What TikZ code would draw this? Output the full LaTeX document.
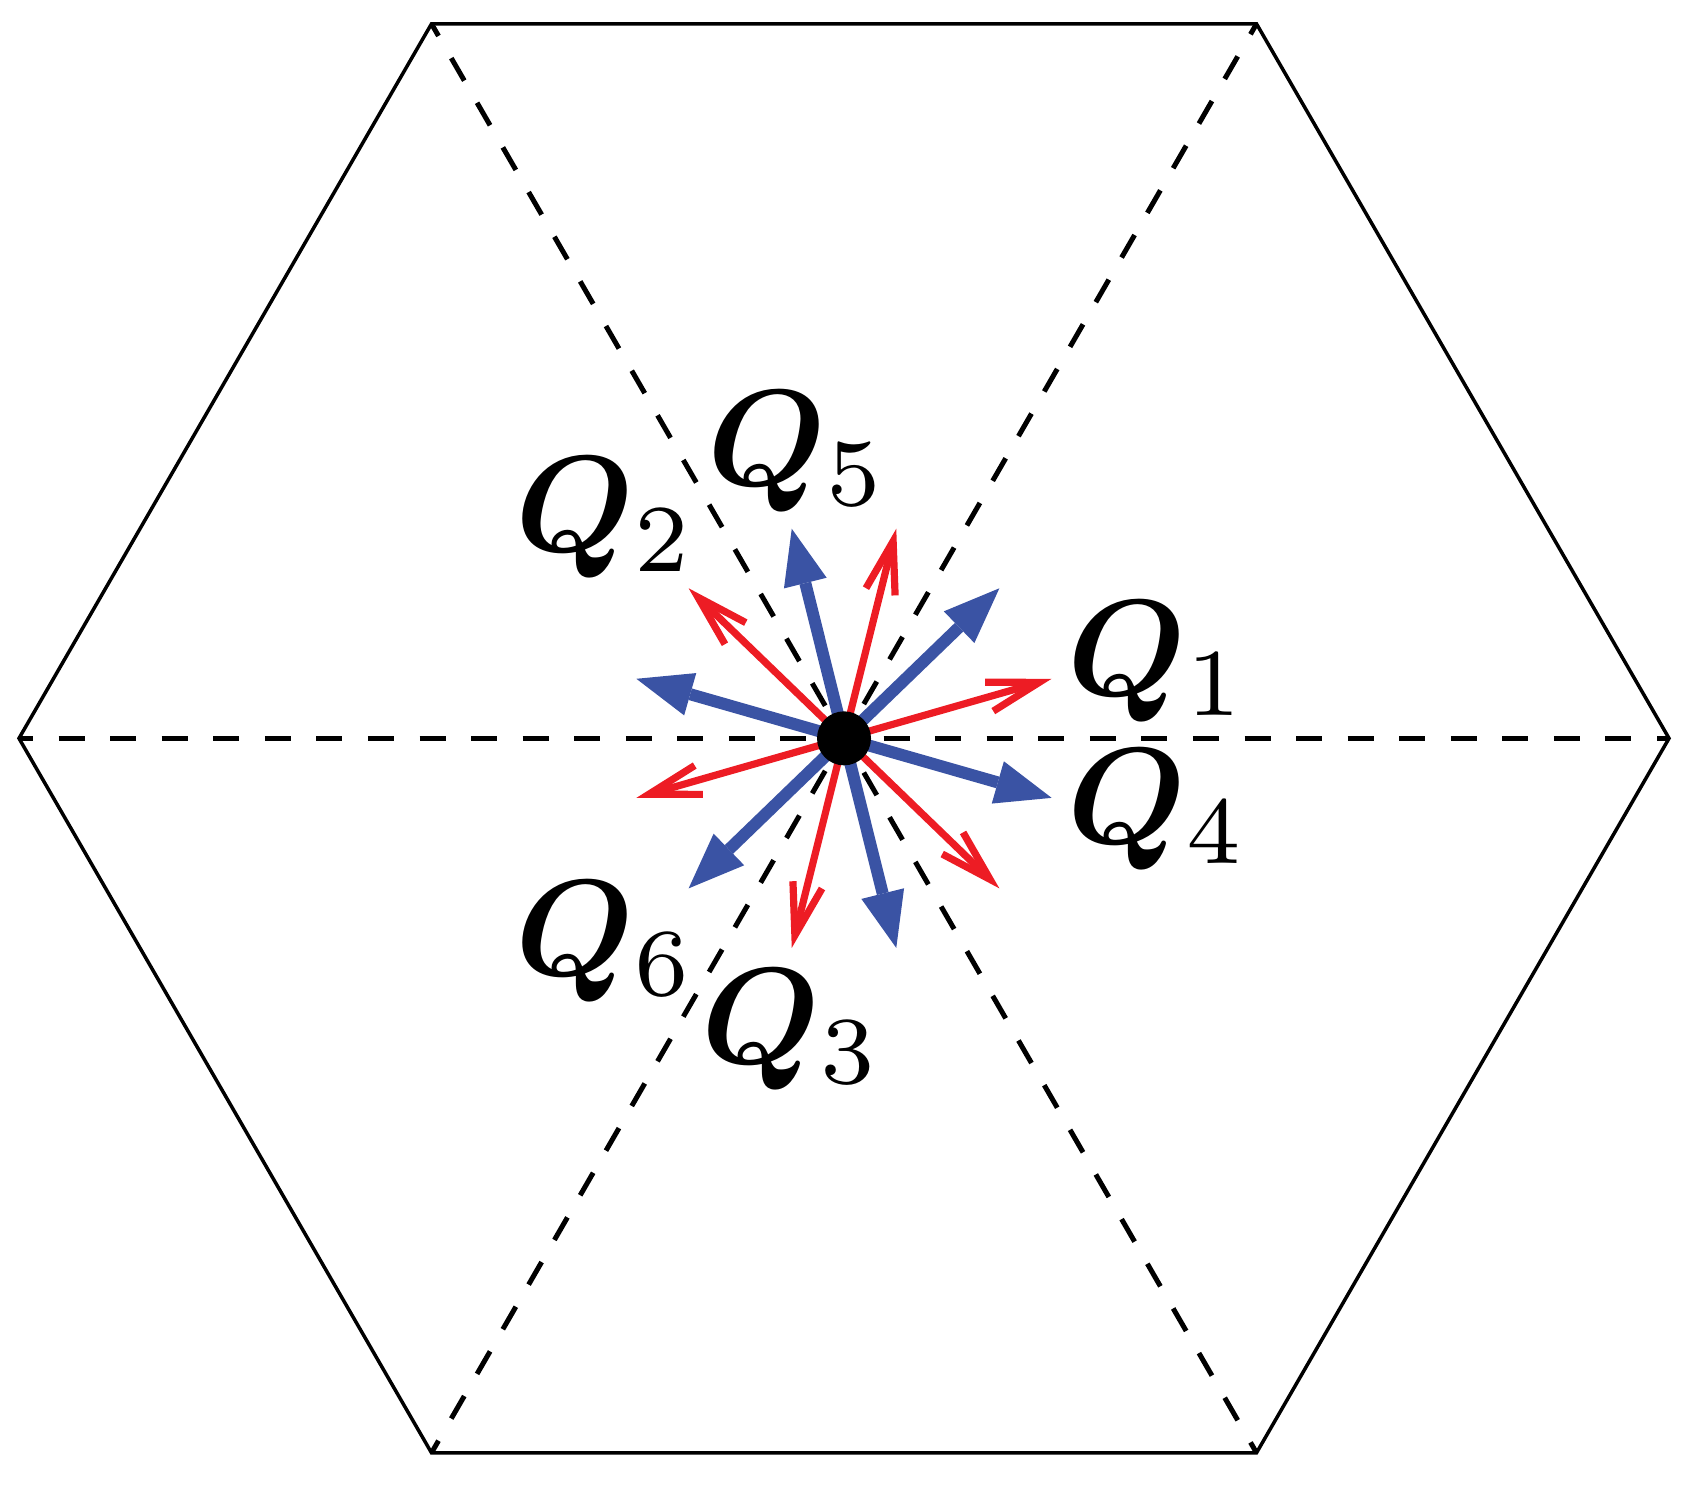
\documentclass[tikz,border=0pt]{standalone}
\usepackage{graphicx}
\usepackage{amsmath,bm}
\usetikzlibrary{arrows.meta,calc}
\definecolor{qred}{RGB}{237,28,36}
\definecolor{qblue}{RGB}{58,83,164}
\newcommand{\qlab}[1]{\scalebox{3.9}{$\bm{Q}_{#1}$}}
\begin{document}
\begin{tikzpicture}[x=0.1mm,y=-0.1mm,
  hexline/.style={line width=0.35mm, line join=miter},
  diag/.style={line width=0.5mm, dash pattern=on 2.6mm off 2.55625mm, dash phase=1.2mm},
  redarrow/.style={qred, line width=0.72mm, -{Straight Barb[length=5.2mm,width=3.0mm]}},
  bluearrow/.style={qblue, line width=1.2mm, -{Triangle[length=5.6mm,width=4.4mm,line width=0pt]}},
  qlabel/.style={anchor=base west, inner sep=0pt, font=\normalsize}]
\useasboundingbox (0,0) rectangle (1691,1487);
\coordinate (O) at (844,738.3);
\foreach \i/\a in {0/0,1/60,2/120,3/180,4/240,5/300}
  \coordinate (V\i) at ([shift={(\a:825)}]O);
\draw[hexline] (V0)--(V1)--(V2)--(V3)--(V4)--(V5)--cycle;
\draw[diag] (V3) -- (V0);
\draw[diag] (V4) -- (V1);
\draw[diag] (V2) -- (V5);
\foreach \i/\a in {1/344,2/284,3/224,4/164,5/104,6/44}
  \coordinate (R\i) at ([shift={(\a:216)}]O);
\foreach \i/\a in {1/16,2/316,3/256,4/196,5/136,6/76}
  \coordinate (B\i) at ([shift={(\a:216)}]O);
\foreach \i in {1,...,6} \draw[bluearrow] (O) -- (B\i);
\foreach \i in {1,...,6} \draw[redarrow] (O) -- (R\i);
\node[circle, fill=black, inner sep=0pt, minimum size=5.4mm] (dot) at (O) {};
\node[qlabel] (q1) at (1067,695) {\qlab{1}};
\node[qlabel] (q4) at (1067,843) {\qlab{4}};
\node[qlabel] (q2) at (515,551) {\qlab{2}};
\node[qlabel] (q5) at (707,485) {\qlab{5}};
\node[qlabel] (q6) at (515,975) {\qlab{6}};
\node[qlabel] (q3) at (701,1063) {\qlab{3}};
\end{tikzpicture}
\end{document}
